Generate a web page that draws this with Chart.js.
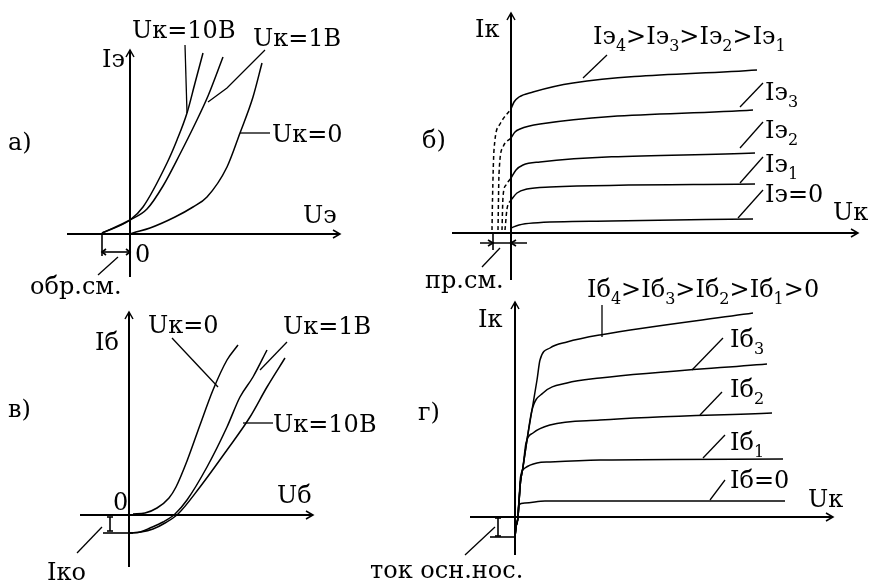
<!DOCTYPE html>
<html>
<head>
<meta charset="utf-8">
<script src="https://cdn.jsdelivr.net/npm/chart.js@4.4.1/dist/chart.umd.min.js"></script>
<style>
  body { margin: 0; background: #fff; }
  #wrap { position: relative; width: 871px; height: 582px; }
  #wrap canvas { position: absolute; left: 0; top: 0; }
</style>
</head>
<body>
<div id="wrap"></div>
<script>
// --- data (arbitrary units; x right, y up from each origin) ---

// а) input characteristics, common base: Iэ(Uэ)
const a_uk10 = [[-28,1],[0,14],[13,27],[37,71],[47,94],[57,121],[65,151],[73,181]]
const a_uk1  = [[-28,1],[0,14],[17,25],[33,48],[50,80],[65,110],[78,138],[93,177]]
const a_uk0  = [[0,0],[3,1],[20,6],[45,17],[63,27],[77,37],[97,67],[110,101],[123,137],[132,171]]

// б) output characteristics, common base: Iк(Uк)
const b_ie0 = [[0,5],[8,8],[22,10],[100,12],[242,14]]
const b_ie1 = [[0,33],[6,40],[16,44],[39,46],[244,49]]
const b_ie2 = [[0,55],[5,63],[12,68],[29,71],[244,80]]
const b_ie3 = [[0,95],[4,101],[9,104],[29,109],[242,123]]
const b_ie4 = [[0,124],[3,131],[8,136],[22,141],[62,150],[246,163]]
// reverse part (dashed)
const b_ie1_rev = [[-6,3],[-4,24],[0,33]]
const b_ie2_rev = [[-9,3],[-8,36],[-5,48],[0,55]]
const b_ie3_rev = [[-13,3],[-12,59],[-8,86],[0,95]]
const b_ie4_rev = [[-19,3],[-18.5,33],[-17,83],[-11,109],[0,124]]

// в) input characteristics, common emitter: Iб(Uб)
const c_uk0  = [[4,1],[16,2],[28,7],[40,17],[47,28],[58,54],[71,90],[84,125],[98,155],[109,170]]
const c_uk1  = [[1,-18],[11,-17],[21,-13],[34,-7],[46,1],[58,15],[78,48],[98,88],[111,118],[124,138],[138,165]]
const c_uk10 = [[1,-18],[12,-17],[24,-14],[36,-8],[49,1],[71,28],[98,65],[121,98],[138,128],[156,157]]

// г) output characteristics, common emitter: Iк(Uк)
const d_ib0 = [[0,-20],[1,-10],[3,0],[3.5,12],[10,14],[30,16],[270,16]]
const d_ib1 = [[0,-20],[1,-10],[3,0],[4,15],[5.5,40],[10,49],[22,54],[35,55],[85,57],[268,58]]
const d_ib2 = [[0,-20],[1,-10],[3,0],[4,15],[5.5,35],[8,50],[11,74],[18,84],[35,92],[85,97],[257,104]]
const d_ib3 = [[0,-20],[1,-10],[3,0],[4,15],[5.5,35],[8,50],[12,77],[17,107],[28,124],[52,134],[85,139],[252,153]]
const d_ib4 = [[0,-20],[1,-10],[3,0],[4,15],[5.5,35],[8,50],[12,77],[17,107],[22,137],[25,157],[35,169],[52,175],[85,182],[238,204]]

// --- layout ---
const W = 871, H = 582
const FONT = '"DejaVu Serif", "Liberation Serif", serif'

const panels = [
  {
    origin: [130,234], xAxis: [-63,210], yAxis: [-43,184],
    curves: [{data: a_uk10}, {data: a_uk1}, {data: a_uk0}],
    texts: [['а)',8,150],['Iэ',102,67],['Uк=10В',132,38],['Uк=1В',253,46],['Uк=0',272,142],
            ['Uэ',303,223],['0',135,262],['обр.см.',30,294]],
    leaders: [[[185,45],[187,113]], [[265,50],[227,88],[208,102]], [[240,133],[270,133]], [[118,257],[98,275]]],
    marks: [[[102,233],[102,256]], [[102,252],[130,252]],
            [[106,249],[102,252],[106,255]], [[126,249],[130,252],[126,255]]]
  },
  {
    origin: [511,233], xAxis: [-59,347], yAxis: [-47,220],
    curves: [{data: b_ie0}, {data: b_ie1}, {data: b_ie2}, {data: b_ie3}, {data: b_ie4},
             {data: b_ie1_rev, dash: true}, {data: b_ie2_rev, dash: true},
             {data: b_ie3_rev, dash: true}, {data: b_ie4_rev, dash: true}],
    texts: [['Iк',475,37],['б)',422,148],['Uк',833,220],['Iэ_4>Iэ_3>Iэ_2>Iэ_1',593,44],
            ['Iэ_3',765,100],['Iэ_2',765,138],['Iэ_1',765,172],['Iэ=0',765,202],['пр.см.',425,288]],
    leaders: [[[607,55],[583,78]], [[763,83],[740,107]], [[763,122],[740,148]],
              [[763,157],[740,183]], [[763,190],[738,218]], [[500,248],[482,267]]],
    marks: [[[493,233],[493,250]], [[480,243],[527,243]],
            [[488,240],[493,243],[488,246]], [[516,240],[511,243],[516,246]]]
  },
  {
    origin: [129,515], xAxis: [-49,184], yAxis: [-52,203],
    curves: [{data: c_uk0}, {data: c_uk1}, {data: c_uk10}],
    texts: [['Iб',95,350],['Uк=0',148,333],['Uк=1В',283,334],['Uк=10В',273,432],['в)',8,417],
            ['0',113,510],['Uб',277,503],['Iко',47,580]],
    leaders: [[[172,338],[218,387]], [[287,342],[260,370]], [[243,423],[273,423]], [[102,527],[77,553]]],
    marks: [[[103,533],[133,533]], [[110,517],[110,531]], [[107,517],[113,517]], [[107,531],[113,531]]]
  },
  {
    origin: [515,517], xAxis: [-45,318], yAxis: [-38,215],
    curves: [{data: d_ib0}, {data: d_ib1}, {data: d_ib2}, {data: d_ib3}, {data: d_ib4}],
    texts: [['Iб_4>Iб_3>Iб_2>Iб_1>0',587,297],['Iк',478,327],['г)',418,420],['Iб_3',730,347],
            ['Iб_2',730,397],['Iб_1',730,450],['Iб=0',730,488],['Uк',808,507],['ток осн.нос.',370,578]],
    leaders: [[[602,305],[602,337]], [[723,338],[692,370]], [[722,392],[700,415]],
              [[725,435],[703,458]], [[725,480],[710,500]], [[495,527],[465,555]]],
    marks: [[[490,537],[515,537]], [[498,518],[498,536]], [[495,518],[501,518]], [[495,536],[501,536]]]
  }
]

function polyline(ctx, pts) {
  ctx.beginPath()
  pts.forEach((pt, i) => i ? ctx.lineTo(pt[0], pt[1]) : ctx.moveTo(pt[0], pt[1]))
  ctx.stroke()
}

// '_' makes the next character a subscript
function drawLabel(ctx, str, x, y) {
  let cx = x
  for (let i = 0; i < str.length; i++) {
    let ch = str[i], sub = false
    if (ch === '_') { sub = true; ch = str[++i] }
    ctx.font = (sub ? '16px ' : '24px ') + FONT
    ctx.fillText(ch, cx, sub ? y + 7 : y)
    cx += ctx.measureText(ch).width
  }
}

function make_chart(p) {
  const canvas = document.createElement('canvas')
  canvas.width = W
  canvas.height = H
  document.getElementById('wrap').appendChild(canvas)

  const datasets = p.curves.map(c => ({
    data: c.data.map(v => ({x: v[0], y: v[1]})),
    borderColor: '#000',
    borderWidth: 1.5,
    borderDash: c.dash ? [4, 3] : [],
    pointRadius: 0,
    fill: false,
    cubicInterpolationMode: 'monotone'
  }))

  const decor = {
    id: 'decor',
    beforeDatasetsDraw(chart) {
      const ctx = chart.ctx
      const X = v => chart.scales.x.getPixelForValue(v)
      const Y = v => chart.scales.y.getPixelForValue(v)
      ctx.save()
      ctx.strokeStyle = '#000'
      ctx.lineWidth = 2
      const x0 = X(0), y0 = Y(0)
      const xe = X(p.xAxis[1]), ye = Y(p.yAxis[1])
      polyline(ctx, [[X(p.xAxis[0]), y0], [xe, y0]])
      polyline(ctx, [[x0, Y(p.yAxis[0])], [x0, ye]])
      ctx.lineWidth = 1.5
      polyline(ctx, [[xe - 7, y0 - 4], [xe, y0], [xe - 7, y0 + 4]])
      polyline(ctx, [[x0 - 4, ye + 7], [x0, ye], [x0 + 4, ye + 7]])
      ctx.restore()
    },
    afterDatasetsDraw(chart) {
      const ctx = chart.ctx
      ctx.save()
      ctx.strokeStyle = '#000'
      ctx.fillStyle = '#000'
      ctx.lineWidth = 1.3
      p.leaders.forEach(l => polyline(ctx, l))
      ctx.lineWidth = 1.6
      p.marks.forEach(m => polyline(ctx, m))
      ctx.textBaseline = 'alphabetic'
      p.texts.forEach(t => drawLabel(ctx, t[0], t[1], t[2]))
      ctx.restore()
    }
  }

  return new Chart(canvas, {
    type: 'line',
    data: {datasets},
    options: {
      responsive: false,
      animation: false,
      events: [],
      layout: {padding: 0},
      plugins: {legend: {display: false}, tooltip: {enabled: false}},
      scales: {
        x: {type: 'linear', display: false, min: -p.origin[0], max: W - p.origin[0]},
        y: {type: 'linear', display: false, min: p.origin[1] - H, max: p.origin[1]}
      }
    },
    plugins: [decor]
  })
}

panels.forEach(p => make_chart(p))
</script>
</body>
</html>
